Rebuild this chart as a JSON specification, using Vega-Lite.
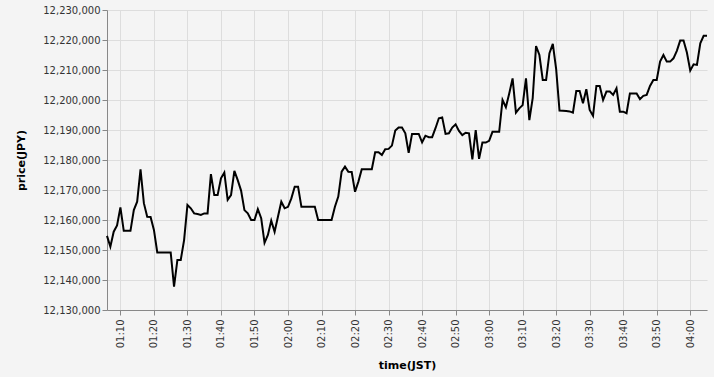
{
  "$schema": "https://vega.github.io/schema/vega-lite/v6.json",
  "width": 600,
  "height": 300,
  "autosize": {"type": "none"},
  "padding": {"left": 107, "top": 10, "right": 7, "bottom": 67},
  "background": "#f4f4f4",
  "config": {
    "view": {"stroke": null},
    "font": "DejaVu Sans",
    "axis": {
      "gridColor": "#dddddd",
      "domainColor": "#888888",
      "tickColor": "#888888",
      "labelColor": "#333333",
      "labelFont": "DejaVu Sans",
      "labelFontSize": 10,
      "titleFont": "DejaVu Sans",
      "titleFontSize": 11,
      "titleFontWeight": "bold",
      "titleColor": "#000000"
    }
  },
  "data": {
    "values": [
      {"t": "2024-01-01T01:06:00", "price": 12154700},
      {"t": "2024-01-01T01:07:00", "price": 12151100},
      {"t": "2024-01-01T01:08:00", "price": 12156100},
      {"t": "2024-01-01T01:09:00", "price": 12158200},
      {"t": "2024-01-01T01:10:00", "price": 12164200},
      {"t": "2024-01-01T01:11:00", "price": 12156400},
      {"t": "2024-01-01T01:12:00", "price": 12156400},
      {"t": "2024-01-01T01:13:00", "price": 12156400},
      {"t": "2024-01-01T01:14:00", "price": 12163300},
      {"t": "2024-01-01T01:15:00", "price": 12166100},
      {"t": "2024-01-01T01:16:00", "price": 12176900},
      {"t": "2024-01-01T01:17:00", "price": 12165600},
      {"t": "2024-01-01T01:18:00", "price": 12161100},
      {"t": "2024-01-01T01:19:00", "price": 12161000},
      {"t": "2024-01-01T01:20:00", "price": 12156700},
      {"t": "2024-01-01T01:21:00", "price": 12149200},
      {"t": "2024-01-01T01:22:00", "price": 12149200},
      {"t": "2024-01-01T01:23:00", "price": 12149200},
      {"t": "2024-01-01T01:24:00", "price": 12149200},
      {"t": "2024-01-01T01:25:00", "price": 12149200},
      {"t": "2024-01-01T01:26:00", "price": 12137800},
      {"t": "2024-01-01T01:27:00", "price": 12146700},
      {"t": "2024-01-01T01:28:00", "price": 12146700},
      {"t": "2024-01-01T01:29:00", "price": 12153300},
      {"t": "2024-01-01T01:30:00", "price": 12165000},
      {"t": "2024-01-01T01:31:00", "price": 12163900},
      {"t": "2024-01-01T01:32:00", "price": 12162200},
      {"t": "2024-01-01T01:33:00", "price": 12162000},
      {"t": "2024-01-01T01:34:00", "price": 12161700},
      {"t": "2024-01-01T01:35:00", "price": 12162200},
      {"t": "2024-01-01T01:36:00", "price": 12162200},
      {"t": "2024-01-01T01:37:00", "price": 12175300},
      {"t": "2024-01-01T01:38:00", "price": 12168300},
      {"t": "2024-01-01T01:39:00", "price": 12168300},
      {"t": "2024-01-01T01:40:00", "price": 12173900},
      {"t": "2024-01-01T01:41:00", "price": 12175800},
      {"t": "2024-01-01T01:42:00", "price": 12166700},
      {"t": "2024-01-01T01:43:00", "price": 12168300},
      {"t": "2024-01-01T01:44:00", "price": 12176400},
      {"t": "2024-01-01T01:45:00", "price": 12173300},
      {"t": "2024-01-01T01:46:00", "price": 12169800},
      {"t": "2024-01-01T01:47:00", "price": 12163300},
      {"t": "2024-01-01T01:48:00", "price": 12162200},
      {"t": "2024-01-01T01:49:00", "price": 12160000},
      {"t": "2024-01-01T01:50:00", "price": 12160000},
      {"t": "2024-01-01T01:51:00", "price": 12163600},
      {"t": "2024-01-01T01:52:00", "price": 12160600},
      {"t": "2024-01-01T01:53:00", "price": 12152400},
      {"t": "2024-01-01T01:54:00", "price": 12155000},
      {"t": "2024-01-01T01:55:00", "price": 12159800},
      {"t": "2024-01-01T01:56:00", "price": 12156100},
      {"t": "2024-01-01T01:57:00", "price": 12161100},
      {"t": "2024-01-01T01:58:00", "price": 12166100},
      {"t": "2024-01-01T01:59:00", "price": 12163900},
      {"t": "2024-01-01T02:00:00", "price": 12164400},
      {"t": "2024-01-01T02:01:00", "price": 12167200},
      {"t": "2024-01-01T02:02:00", "price": 12171100},
      {"t": "2024-01-01T02:03:00", "price": 12171100},
      {"t": "2024-01-01T02:04:00", "price": 12164400},
      {"t": "2024-01-01T02:05:00", "price": 12164400},
      {"t": "2024-01-01T02:06:00", "price": 12164400},
      {"t": "2024-01-01T02:07:00", "price": 12164400},
      {"t": "2024-01-01T02:08:00", "price": 12164400},
      {"t": "2024-01-01T02:09:00", "price": 12160000},
      {"t": "2024-01-01T02:10:00", "price": 12160000},
      {"t": "2024-01-01T02:11:00", "price": 12160000},
      {"t": "2024-01-01T02:12:00", "price": 12160000},
      {"t": "2024-01-01T02:13:00", "price": 12160000},
      {"t": "2024-01-01T02:14:00", "price": 12164400},
      {"t": "2024-01-01T02:15:00", "price": 12167800},
      {"t": "2024-01-01T02:16:00", "price": 12176100},
      {"t": "2024-01-01T02:17:00", "price": 12177800},
      {"t": "2024-01-01T02:18:00", "price": 12176100},
      {"t": "2024-01-01T02:19:00", "price": 12176000},
      {"t": "2024-01-01T02:20:00", "price": 12169400},
      {"t": "2024-01-01T02:21:00", "price": 12172800},
      {"t": "2024-01-01T02:22:00", "price": 12176900},
      {"t": "2024-01-01T02:23:00", "price": 12176900},
      {"t": "2024-01-01T02:24:00", "price": 12176900},
      {"t": "2024-01-01T02:25:00", "price": 12176900},
      {"t": "2024-01-01T02:26:00", "price": 12182600},
      {"t": "2024-01-01T02:27:00", "price": 12182600},
      {"t": "2024-01-01T02:28:00", "price": 12181700},
      {"t": "2024-01-01T02:29:00", "price": 12183600},
      {"t": "2024-01-01T02:30:00", "price": 12183700},
      {"t": "2024-01-01T02:31:00", "price": 12184800},
      {"t": "2024-01-01T02:32:00", "price": 12189800},
      {"t": "2024-01-01T02:33:00", "price": 12190800},
      {"t": "2024-01-01T02:34:00", "price": 12190800},
      {"t": "2024-01-01T02:35:00", "price": 12188900},
      {"t": "2024-01-01T02:36:00", "price": 12182400},
      {"t": "2024-01-01T02:37:00", "price": 12188700},
      {"t": "2024-01-01T02:38:00", "price": 12188700},
      {"t": "2024-01-01T02:39:00", "price": 12188700},
      {"t": "2024-01-01T02:40:00", "price": 12185900},
      {"t": "2024-01-01T02:41:00", "price": 12188100},
      {"t": "2024-01-01T02:42:00", "price": 12187600},
      {"t": "2024-01-01T02:43:00", "price": 12187600},
      {"t": "2024-01-01T02:44:00", "price": 12190600},
      {"t": "2024-01-01T02:45:00", "price": 12193900},
      {"t": "2024-01-01T02:46:00", "price": 12194200},
      {"t": "2024-01-01T02:47:00", "price": 12188700},
      {"t": "2024-01-01T02:48:00", "price": 12188900},
      {"t": "2024-01-01T02:49:00", "price": 12190800},
      {"t": "2024-01-01T02:50:00", "price": 12191900},
      {"t": "2024-01-01T02:51:00", "price": 12189700},
      {"t": "2024-01-01T02:52:00", "price": 12188300},
      {"t": "2024-01-01T02:53:00", "price": 12189100},
      {"t": "2024-01-01T02:54:00", "price": 12188900},
      {"t": "2024-01-01T02:55:00", "price": 12180200},
      {"t": "2024-01-01T02:56:00", "price": 12190000},
      {"t": "2024-01-01T02:57:00", "price": 12180400},
      {"t": "2024-01-01T02:58:00", "price": 12185800},
      {"t": "2024-01-01T02:59:00", "price": 12185800},
      {"t": "2024-01-01T03:00:00", "price": 12186400},
      {"t": "2024-01-01T03:01:00", "price": 12189400},
      {"t": "2024-01-01T03:02:00", "price": 12189400},
      {"t": "2024-01-01T03:03:00", "price": 12189400},
      {"t": "2024-01-01T03:04:00", "price": 12200000},
      {"t": "2024-01-01T03:05:00", "price": 12197600},
      {"t": "2024-01-01T03:06:00", "price": 12202200},
      {"t": "2024-01-01T03:07:00", "price": 12207200},
      {"t": "2024-01-01T03:08:00", "price": 12195800},
      {"t": "2024-01-01T03:09:00", "price": 12197200},
      {"t": "2024-01-01T03:10:00", "price": 12198300},
      {"t": "2024-01-01T03:11:00", "price": 12207200},
      {"t": "2024-01-01T03:12:00", "price": 12193300},
      {"t": "2024-01-01T03:13:00", "price": 12200600},
      {"t": "2024-01-01T03:14:00", "price": 12218000},
      {"t": "2024-01-01T03:15:00", "price": 12215000},
      {"t": "2024-01-01T03:16:00", "price": 12206700},
      {"t": "2024-01-01T03:17:00", "price": 12206700},
      {"t": "2024-01-01T03:18:00", "price": 12215600},
      {"t": "2024-01-01T03:19:00", "price": 12218700},
      {"t": "2024-01-01T03:20:00", "price": 12210300},
      {"t": "2024-01-01T03:21:00", "price": 12196500},
      {"t": "2024-01-01T03:22:00", "price": 12196400},
      {"t": "2024-01-01T03:23:00", "price": 12196300},
      {"t": "2024-01-01T03:24:00", "price": 12196200},
      {"t": "2024-01-01T03:25:00", "price": 12195800},
      {"t": "2024-01-01T03:26:00", "price": 12203000},
      {"t": "2024-01-01T03:27:00", "price": 12203000},
      {"t": "2024-01-01T03:28:00", "price": 12198900},
      {"t": "2024-01-01T03:29:00", "price": 12203600},
      {"t": "2024-01-01T03:30:00", "price": 12196700},
      {"t": "2024-01-01T03:31:00", "price": 12194700},
      {"t": "2024-01-01T03:32:00", "price": 12204700},
      {"t": "2024-01-01T03:33:00", "price": 12204700},
      {"t": "2024-01-01T03:34:00", "price": 12200000},
      {"t": "2024-01-01T03:35:00", "price": 12202800},
      {"t": "2024-01-01T03:36:00", "price": 12202800},
      {"t": "2024-01-01T03:37:00", "price": 12201700},
      {"t": "2024-01-01T03:38:00", "price": 12203900},
      {"t": "2024-01-01T03:39:00", "price": 12196100},
      {"t": "2024-01-01T03:40:00", "price": 12196100},
      {"t": "2024-01-01T03:41:00", "price": 12195600},
      {"t": "2024-01-01T03:42:00", "price": 12202200},
      {"t": "2024-01-01T03:43:00", "price": 12202200},
      {"t": "2024-01-01T03:44:00", "price": 12202200},
      {"t": "2024-01-01T03:45:00", "price": 12200300},
      {"t": "2024-01-01T03:46:00", "price": 12201400},
      {"t": "2024-01-01T03:47:00", "price": 12201700},
      {"t": "2024-01-01T03:48:00", "price": 12204700},
      {"t": "2024-01-01T03:49:00", "price": 12206700},
      {"t": "2024-01-01T03:50:00", "price": 12206700},
      {"t": "2024-01-01T03:51:00", "price": 12212800},
      {"t": "2024-01-01T03:52:00", "price": 12215000},
      {"t": "2024-01-01T03:53:00", "price": 12212800},
      {"t": "2024-01-01T03:54:00", "price": 12212800},
      {"t": "2024-01-01T03:55:00", "price": 12213900},
      {"t": "2024-01-01T03:56:00", "price": 12216400},
      {"t": "2024-01-01T03:57:00", "price": 12219800},
      {"t": "2024-01-01T03:58:00", "price": 12219800},
      {"t": "2024-01-01T03:59:00", "price": 12215800},
      {"t": "2024-01-01T04:00:00", "price": 12209800},
      {"t": "2024-01-01T04:01:00", "price": 12211900},
      {"t": "2024-01-01T04:02:00", "price": 12211700},
      {"t": "2024-01-01T04:03:00", "price": 12218900},
      {"t": "2024-01-01T04:04:00", "price": 12221400},
      {"t": "2024-01-01T04:05:00", "price": 12221400}
    ]
  },
  "mark": {"type": "line", "color": "#000000", "strokeWidth": 2},
  "encoding": {
    "x": {
      "field": "t",
      "type": "temporal",
      "title": "time(JST)",
      "axis": {
        "format": "%H:%M",
        "labelAngle": -90,
        "values": [
          {"year": 2024, "month": 1, "date": 1, "hours": 1, "minutes": 10},
          {"year": 2024, "month": 1, "date": 1, "hours": 1, "minutes": 20},
          {"year": 2024, "month": 1, "date": 1, "hours": 1, "minutes": 30},
          {"year": 2024, "month": 1, "date": 1, "hours": 1, "minutes": 40},
          {"year": 2024, "month": 1, "date": 1, "hours": 1, "minutes": 50},
          {"year": 2024, "month": 1, "date": 1, "hours": 2, "minutes": 0},
          {"year": 2024, "month": 1, "date": 1, "hours": 2, "minutes": 10},
          {"year": 2024, "month": 1, "date": 1, "hours": 2, "minutes": 20},
          {"year": 2024, "month": 1, "date": 1, "hours": 2, "minutes": 30},
          {"year": 2024, "month": 1, "date": 1, "hours": 2, "minutes": 40},
          {"year": 2024, "month": 1, "date": 1, "hours": 2, "minutes": 50},
          {"year": 2024, "month": 1, "date": 1, "hours": 3, "minutes": 0},
          {"year": 2024, "month": 1, "date": 1, "hours": 3, "minutes": 10},
          {"year": 2024, "month": 1, "date": 1, "hours": 3, "minutes": 20},
          {"year": 2024, "month": 1, "date": 1, "hours": 3, "minutes": 30},
          {"year": 2024, "month": 1, "date": 1, "hours": 3, "minutes": 40},
          {"year": 2024, "month": 1, "date": 1, "hours": 3, "minutes": 50},
          {"year": 2024, "month": 1, "date": 1, "hours": 4, "minutes": 0}
        ],
        "titlePadding": 12,
        "labelPadding": 4
      }
    },
    "y": {
      "field": "price",
      "type": "quantitative",
      "title": "price(JPY)",
      "scale": {"domain": [12130000, 12230000], "zero": false, "nice": false},
      "axis": {"tickCount": 10, "format": ",d", "titlePadding": 16}
    }
  }
}
